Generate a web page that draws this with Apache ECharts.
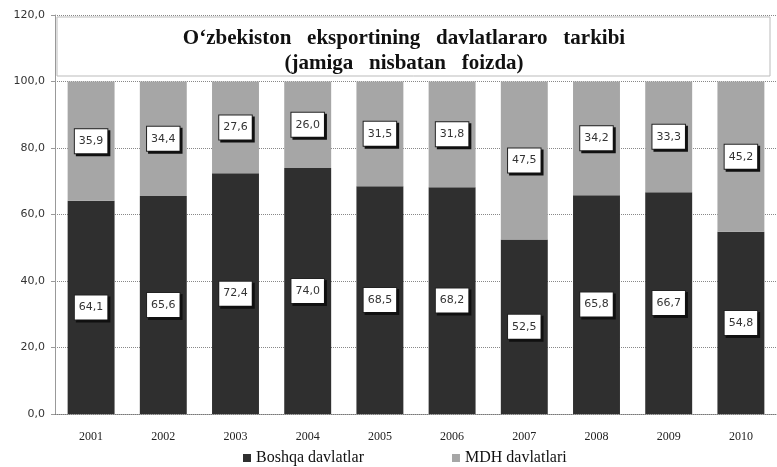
<!DOCTYPE html>
<html>
<head>
<meta charset="utf-8">
<script src="https://cdn.jsdelivr.net/npm/echarts@6/dist/echarts.min.js"></script>
<style>
  html, body { margin: 0; padding: 0; background: #fff; }
  #chart { width: 777px; height: 467px; }
</style>
</head>
<body>
<div id="chart"></div>
<script>
var years = ['2001', '2002', '2003', '2004', '2005', '2006', '2007', '2008', '2009', '2010'];
var boshqa = [64.1, 65.6, 72.4, 74.0, 68.5, 68.2, 52.5, 65.8, 66.7, 54.8];
var mdh = [35.9, 34.4, 27.6, 26.0, 31.5, 31.8, 47.5, 34.2, 33.3, 45.2];
var yTicks = { min: 0, max: 120, step: 20 };

var chart = echarts.init(document.getElementById('chart'));

function comma(v) {
    return Number(v).toFixed(1).replace('.', ',');
}

// white boxed value labels with a hard shadow, like the original
var boxLabel = {
    show: true,
    position: 'inside',
    formatter: function (p) { return comma(p.value); },
    fontFamily: 'DejaVu Sans',
    fontSize: 11,
    color: '#333',
    backgroundColor: '#fff',
    borderColor: '#222',
    borderWidth: 1,
    padding: [7, 4, 6, 4],
    shadowColor: '#111',
    shadowOffsetX: 2,
    shadowOffsetY: 2,
    shadowBlur: 0
};

option = {
    backgroundColor: '#fff',
    animation: false,
    title: {
        text: 'O‘zbekiston   eksportining   davlatlararo   tarkibi\n(jamiga   nisbatan   foizda)',
        left: 399,
        top: 21,
        textAlign: 'center',
        textStyle: {
            fontFamily: 'Liberation Serif',
            fontWeight: 'bold',
            fontSize: 21,
            lineHeight: 25,
            color: '#111'
        }
    },
    graphic: [{
        type: 'rect',
        z: 5,
        shape: { x: 57, y: 17, width: 713, height: 59 },
        style: { fill: '#fff', stroke: '#bbb', lineWidth: 1 }
    }],
    legend: {
        left: 238,
        top: 445,
        itemWidth: 8,
        itemHeight: 8,
        itemGap: 88,
        icon: 'rect',
        data: ['Boshqa davlatlar', 'MDH davlatlari'],
        textStyle: {
            fontFamily: 'Liberation Serif',
            fontSize: 16,
            color: '#111'
        }
    },
    grid: {
        top: 15,
        left: 55,
        right: 0,
        bottom: 53
    },
    xAxis: {
        type: 'category',
        data: years,
        axisTick: { show: false },
        axisLine: { lineStyle: { color: '#777', type: 'dotted' } },
        axisLabel: {
            margin: 17,
            fontFamily: 'Liberation Serif',
            fontSize: 12,
            color: '#222'
        }
    },
    yAxis: {
        type: 'value',
        min: yTicks.min,
        max: yTicks.max,
        interval: yTicks.step,
        axisLine: { show: true, lineStyle: { color: '#999' } },
        axisTick: { show: true, length: 4, lineStyle: { color: '#999' } },
        axisLabel: {
            formatter: comma,
            margin: 10,
            fontFamily: 'DejaVu Sans',
            fontSize: 11,
            color: '#333'
        },
        splitLine: { lineStyle: { color: '#888', type: 'dotted' } }
    },
    series: [
        {
            name: 'Boshqa davlatlar',
            type: 'bar',
            stack: 'total',
            barCategoryGap: '35%',
            itemStyle: { color: '#2f2f2f' },
            label: boxLabel,
            data: boshqa
        },
        {
            name: 'MDH davlatlari',
            type: 'bar',
            stack: 'total',
            barCategoryGap: '35%',
            itemStyle: { color: '#a6a6a6' },
            label: boxLabel,
            data: mdh
        }
    ]
};

chart.setOption(option);

window.onresize = function () {
    chart.resize();
};
</script>
</body>
</html>
